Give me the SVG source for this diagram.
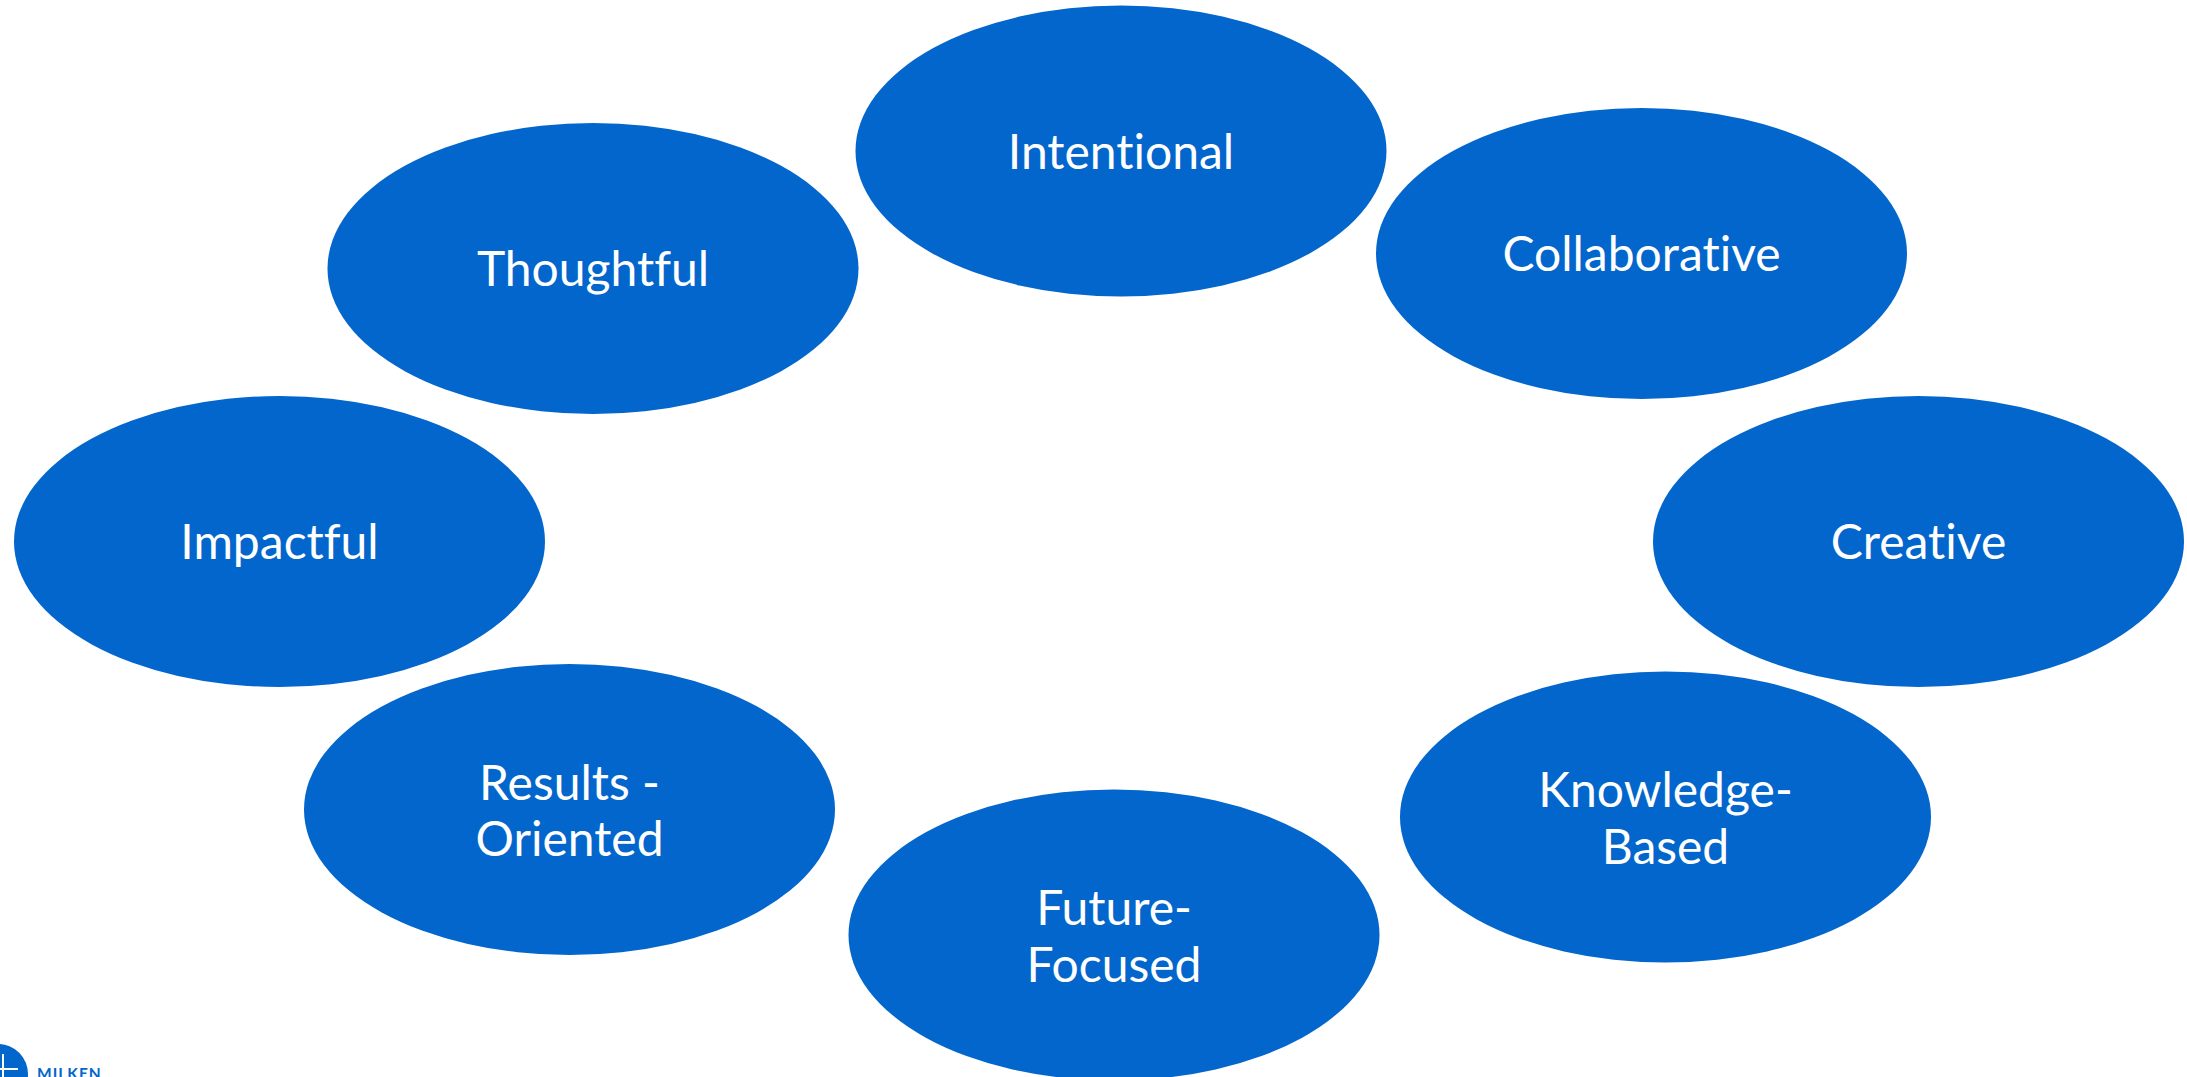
<svg xmlns="http://www.w3.org/2000/svg" width="2187" height="1077" viewBox="0 0 2187 1077">
<style>
.n{fill:#0366CC}
.t{font-family:Lato,"Liberation Sans",sans-serif;font-size:48px;font-weight:400;fill:#fff;text-anchor:middle;font-variant-ligatures:none}
.m{font-family:Lato,"Liberation Sans",sans-serif;font-size:15.5px;font-weight:700;fill:#0366CC;letter-spacing:1px}
</style>
<rect width="2187" height="1077" fill="#fff"/>
<g id="connectors"/>
<g id="intentional"><ellipse class="n" cx="1121" cy="151" rx="265.5" ry="145.5"/><text class="t" x="1121" y="168.5">Intentional</text></g>
<g id="collaborative"><ellipse class="n" cx="1641.5" cy="253.5" rx="265.5" ry="145.5"/><text class="t" x="1641.5" y="271">Collaborative</text></g>
<g id="creative"><ellipse class="n" cx="1918.5" cy="541.5" rx="265.5" ry="145.5"/><text class="t" x="1918.5" y="559">Creative</text></g>
<g id="knowledge"><ellipse class="n" cx="1665.5" cy="817" rx="265.5" ry="145.5"/><text class="t" x="1665.5" y="807">Knowledge-</text><text class="t" x="1665.5" y="863.5">Based</text></g>
<g id="future"><ellipse class="n" cx="1114" cy="935" rx="265.5" ry="145.5"/><text class="t" x="1114" y="925">Future-</text><text class="t" x="1114" y="981.5">Focused</text></g>
<g id="results"><ellipse class="n" cx="569.5" cy="809.5" rx="265.5" ry="145.5"/><text class="t" x="569.5" y="799.5">Results -</text><text class="t" x="569.5" y="856">Oriented</text></g>
<g id="impactful"><ellipse class="n" cx="279.5" cy="541.5" rx="265.5" ry="145.5"/><text class="t" x="279.5" y="559">Impactful</text></g>
<g id="thoughtful"><ellipse class="n" cx="593" cy="268.5" rx="265.5" ry="145.5"/><text class="t" x="593" y="286">Thoughtful</text></g>
<g id="logo"><circle class="n" cx="-2" cy="1074" r="30"/><path d="M3 1054V1077M0 1069H18" stroke="#fff" stroke-width="2" fill="none"/><text class="m" x="37" y="1079">MILKEN</text></g>
</svg>
